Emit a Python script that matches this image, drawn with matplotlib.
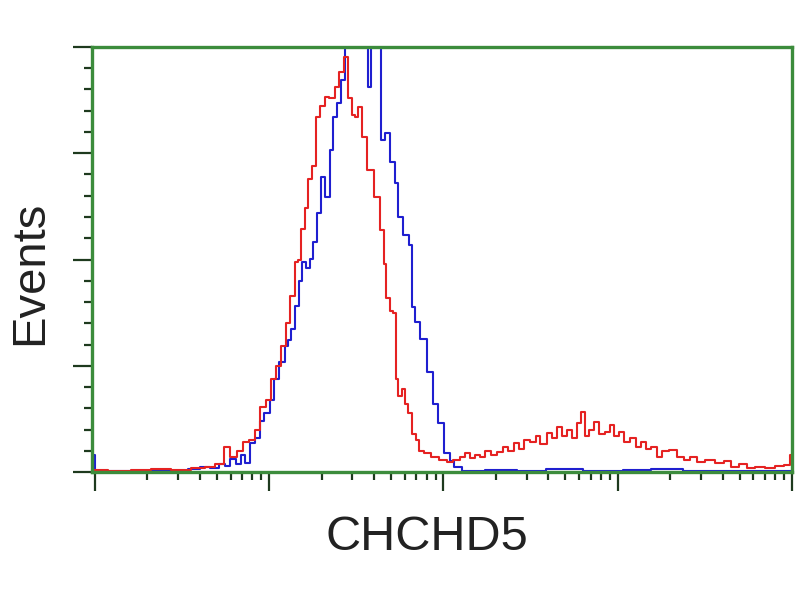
import matplotlib
matplotlib.use("Agg")
import matplotlib.pyplot as plt
import numpy as np
from matplotlib.ticker import LogLocator, MultipleLocator, NullFormatter

# red histogram: channel position (decades) and counts (% of max)
red_lo = [0.0, 0.143, 0.258, 0.373, 0.488, 0.603, 0.66, 0.717, 0.763, 0.792,
          0.832, 0.861, 0.907, 0.935, 0.964, 0.993, 1.022, 1.05, 1.079, 1.108,
          1.131, 1.159, 1.176, 1.194, 1.211, 1.234, 1.257, 1.28, 1.303, 1.331,
          1.36, 1.389, 1.417, 1.446, 1.463, 1.486, 1.503, 1.521, 1.549, 1.578,
          1.618, 1.653, 1.664, 1.681, 1.704, 1.722, 1.733, 1.75, 1.768, 1.79,
          1.808, 1.831, 1.848, 1.876, 1.905, 1.951, 1.997, 2.037, 2.077, 2.112,
          2.135, 2.169, 2.198, 2.226, 2.255, 2.29, 2.324, 2.353, 2.382, 2.422,
          2.45, 2.479, 2.514, 2.542, 2.571, 2.611, 2.639, 2.668, 2.697, 2.725,
          2.754, 2.783, 2.8, 2.823, 2.852, 2.88, 2.91, 2.938, 2.967, 2.995,
          3.024, 3.053, 3.088, 3.116, 3.145, 3.174, 3.202, 3.242, 3.271, 3.317,
          3.357, 3.397, 3.437, 3.472, 3.529, 3.587, 3.627, 3.673, 3.719, 3.759,
          3.816, 3.874, 3.931, 3.971, 4.0]
red_cnt = [0.5, 0.3, 0.5, 0.7, 0.5, 1.0, 1.2, 2.0, 6.0, 3.5,
           5.0, 7.0, 7.5, 10.0, 15.3, 17.0, 21.9, 25.0, 29.6, 35.0,
           41.4, 49.4, 50.0, 57.2, 62.0, 68.9, 72.0, 83.5, 86.0, 88.2,
           88.0, 90.6, 94.0, 97.6, 88.0, 84.0, 83.5, 85.9, 78.8, 71.0,
           64.7, 56.9, 49.0, 41.0, 38.0, 37.4, 21.9, 18.0, 19.5, 16.0,
           13.9, 9.0, 7.5, 5.0, 4.5, 3.5, 2.8, 2.4, 2.8, 3.5,
           4.5, 3.2, 4.0, 3.5, 5.0, 4.0, 4.7, 6.0, 5.0, 6.8,
           5.5, 7.5, 7.1, 8.5, 6.5, 9.2, 8.0, 10.5, 8.5, 10.0,
           8.0, 11.5, 14.1, 8.5, 10.0, 11.8, 9.0, 9.4, 11.0, 8.5,
           9.5, 7.0, 8.0, 6.0, 7.0, 5.5, 6.0, 3.5, 5.0, 5.2,
           3.5, 2.8, 3.5, 2.4, 2.8, 2.1, 2.6, 1.2, 1.8, 0.9,
           1.2, 1.0, 1.4, 1.6, 4.0]

# blue histogram
blue_lo = [-0.011, 0.011, 0.143, 0.258, 0.373, 0.488, 0.574, 0.631, 0.689, 0.729,
           0.763, 0.792, 0.821, 0.849, 0.872, 0.907, 0.935, 0.958, 0.987, 1.016,
           1.044, 1.073, 1.102, 1.119, 1.136, 1.165, 1.182, 1.194, 1.222, 1.245,
           1.262, 1.291, 1.308, 1.337, 1.36, 1.377, 1.406, 1.423, 1.446, 1.475,
           1.509, 1.543, 1.561, 1.578, 1.595, 1.618, 1.635, 1.647, 1.676, 1.71,
           1.733, 1.75, 1.79, 1.819, 1.825, 1.848, 1.882, 1.923, 1.951, 1.98,
           2.02, 2.049, 2.077, 2.135, 2.324, 2.497, 2.668, 2.898, 3.128, 3.242,
           3.472, 3.701, 3.989]
blue_cnt = [4.0, 0.3, 0.2, 0.3, 0.4, 0.3, 0.8, 1.2, 1.0, 2.0,
            1.5, 3.0, 1.8, 4.0, 2.2, 6.8, 8.0, 12.0, 13.9, 17.0,
            21.9, 26.0, 29.6, 31.0, 33.6, 39.0, 45.0, 49.4, 48.0, 50.1,
            54.0, 61.0, 69.4, 64.7, 75.8, 83.5, 86.8, 92.2, 100.0, 110.0,
            115.0, 108.0, 100.0, 90.6, 100.0, 106.0, 104.0, 78.0, 79.8, 73.0,
            68.0, 60.0, 55.8, 53.4, 38.8, 35.3, 31.3, 23.5, 16.0, 11.5,
            4.5, 2.5, 1.2, 0.3, 0.5, 0.3, 0.6, 0.3, 0.4, 0.7,
            0.3, 0.2, 0.2]

green = "#3c8c3c"
tick_col = "#1e3a1e"

fig = plt.figure(figsize=(8, 6), dpi=100)
ax = fig.add_axes([0.115, 0.2133, 0.875, 0.7084])

ax.plot(10 ** np.array(blue_lo), blue_cnt, color="#1f1fd0", lw=1.5, drawstyle="steps-mid")
ax.plot(10 ** np.array(red_lo), red_cnt, color="#e52222", lw=1.5, drawstyle="steps-mid")

ax.set_xscale("log")
ax.set_xlim(10 ** -0.017, 10 ** 4.0)
ax.set_ylim(0, 100)

for s in ax.spines.values():
    s.set_color(green)
    s.set_linewidth(2.4)

ax.xaxis.set_major_locator(LogLocator(base=10, numticks=10))
ax.xaxis.set_minor_locator(LogLocator(base=10, subs=np.arange(2, 10), numticks=20))
ax.xaxis.set_major_formatter(NullFormatter())
ax.xaxis.set_minor_formatter(NullFormatter())
ax.yaxis.set_major_locator(MultipleLocator(25))
ax.yaxis.set_minor_locator(MultipleLocator(5))
ax.yaxis.set_major_formatter(NullFormatter())

ax.tick_params(which="major", direction="out", length=14, width=1.6, color=tick_col)
ax.tick_params(which="minor", direction="out", length=6, width=1.6, color=tick_col)
ax.tick_params(top=False, right=False)

fig.text(0.534, 0.105, "CHCHD5", ha="center", va="center", fontsize=35,
         family="Liberation Sans", color="#222222")
fig.text(0.038, 0.545, "Events", ha="center", va="center", rotation=90, fontsize=34,
         family="Liberation Sans", color="#222222")

fig.savefig("out.png", dpi=100)
